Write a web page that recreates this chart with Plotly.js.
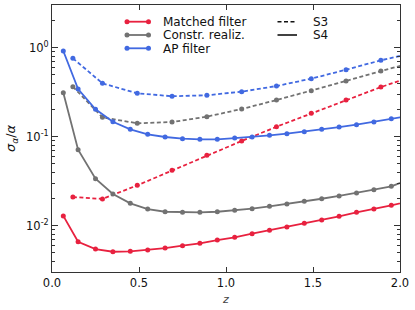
<!DOCTYPE html>
<html>
<head>
<meta charset="utf-8">
<script src="https://cdn.plot.ly/plotly-3.0.1.min.js"></script>
<style>html,body{margin:0;padding:0;background:#fff;}#chart{width:415px;height:310px;}</style>
</head>
<body>
<div id="chart"></div>
<script>
// x positions
const zS4 = [0.065, 0.15, 0.25, 0.35, 0.45, 0.55, 0.65, 0.75, 0.85, 0.95, 1.05, 1.15, 1.25, 1.35, 1.45, 1.55, 1.65, 1.75, 1.85, 1.95, 2.05];
const zS3 = [0.12, 0.29, 0.49, 0.69, 0.89, 1.09, 1.29, 1.49, 1.69, 1.89, 2.09];

// S4 (solid)
const matchedS4 = [0.0129, 0.0066, 0.00547, 0.0051, 0.00516, 0.00533, 0.00561, 0.00596, 0.00634, 0.0069, 0.0074, 0.00813, 0.00888, 0.00967, 0.01064, 0.01159, 0.01276, 0.01415, 0.01541, 0.01695, 0.0188];
const constrS4  = [0.312, 0.0714, 0.0338, 0.0227, 0.01786, 0.0154, 0.01436, 0.01415, 0.01415, 0.01436, 0.0149, 0.01552, 0.01652, 0.01753, 0.0188, 0.0201, 0.0216, 0.0233, 0.0254, 0.0277, 0.0329];
const apS4      = [0.918, 0.343, 0.203, 0.1475, 0.1211, 0.1064, 0.0993, 0.095, 0.0935, 0.0935, 0.0966, 0.0993, 0.1037, 0.1081, 0.1138, 0.1211, 0.1285, 0.1364, 0.1462, 0.1592, 0.1714];

// S3 (dashed)
const matchedS3 = [0.021, 0.020, 0.0284, 0.0419, 0.0618, 0.0895, 0.1294, 0.1832, 0.2585, 0.3615, 0.486];
const constrS3  = [0.365, 0.165, 0.1415, 0.1462, 0.168, 0.205, 0.258, 0.329, 0.423, 0.547, 0.692];
const apS3      = [0.760, 0.398, 0.307, 0.285, 0.292, 0.321, 0.371, 0.449, 0.566, 0.722, 0.885];

const methodNames = ['Matched filter', 'Constr. realiz.', 'AP filter'];
const sampleNames = ['S3', 'S4'];
const xTickVals = [0, 0.5, 1.0, 1.5, 2.0];
const xTickText = ['0.0', '0.5', '1.0', '1.5', '2.0'];
const yTickVals = [0.01, 0.1, 1];
const yTickText = ['10<sup>-2</sup>', '10<sup>-1</sup>', '10<sup>0</sup>'];

const colors = ['#e8213f', '#727272', '#4169e1'];
const FONT = 'DejaVu Sans, sans-serif';

function tr(x, y, color, dash, name) {
  return {
    x: x, y: y, type: 'scatter', mode: 'lines+markers', name: name,
    line: {color: color, width: 1.8, dash: dash},
    marker: {color: color, size: 5},
    showlegend: false, cliponaxis: true
  };
}

const data = [
  tr(zS3, constrS3, colors[1], '4px,2.5px', methodNames[1] + ' S3'),
  tr(zS3, apS3, colors[2], '4px,2.5px', methodNames[2] + ' S3'),
  tr(zS3, matchedS3, colors[0], '4px,2.5px', methodNames[0] + ' S3'),
  tr(zS4, constrS4, colors[1], 'solid', methodNames[1] + ' S4'),
  tr(zS4, apS4, colors[2], 'solid', methodNames[2] + ' S4'),
  tr(zS4, matchedS4, colors[0], 'solid', methodNames[0] + ' S4')
];

// plot area in pixels
const L = 52, R = 400, T = 5, B = 272;
const px2x = p => (p - L) / (R - L);
const py2y = p => (B - p) / (B - T);

const shapes = [];
const annotations = [];
const legY = [21.7, 35, 48.3];
methodNames.forEach((n, i) => {
  shapes.push({type: 'line', xref: 'paper', yref: 'paper', x0: px2x(127), x1: px2x(148.5), y0: py2y(legY[i]), y1: py2y(legY[i]), line: {color: colors[i], width: 1.8}});
  [127, 148.5].forEach(xp => {
    shapes.push({type: 'circle', xref: 'paper', yref: 'paper', xsizemode: 'pixel', ysizemode: 'pixel',
      xanchor: px2x(xp), yanchor: py2y(legY[i]), x0: -2.5, x1: 2.5, y0: -2.5, y1: 2.5,
      fillcolor: colors[i], line: {color: colors[i], width: 0}});
  });
  annotations.push({xref: 'paper', yref: 'paper', x: px2x(161), y: py2y(legY[i] + 0.5), text: n, showarrow: false,
    xanchor: 'left', yanchor: 'middle', font: {family: FONT, size: 12, color: '#111'}});
});
const dashes = ['4px,2.5px', 'solid'];
sampleNames.forEach((n, i) => {
  shapes.push({type: 'line', xref: 'paper', yref: 'paper', x0: px2x(277.5), x1: px2x(297), y0: py2y(legY[i]), y1: py2y(legY[i]), line: {color: '#111', width: 1.6, dash: dashes[i]}});
  annotations.push({xref: 'paper', yref: 'paper', x: px2x(311), y: py2y(legY[i] + 0.5), text: n, showarrow: false,
    xanchor: 'left', yanchor: 'middle', font: {family: FONT, size: 12, color: '#111'}});
});

const minorVals = [];
[0.001, 0.01, 0.1, 1].forEach(d => { for (let k = 2; k <= 9; k++) minorVals.push(+(k * d).toPrecision(3)); });

const layout = {
  width: 415, height: 310,
  margin: {l: L, r: 415 - R, t: T, b: 310 - B},
  paper_bgcolor: '#fff', plot_bgcolor: '#fff',
  font: {family: FONT, size: 12, color: '#111'},
  showlegend: false,
  xaxis: {
    range: [0, 2], tickmode: 'array', tickvals: xTickVals, ticktext: xTickText,
    ticks: 'inside', ticklen: 5, tickwidth: 1, tickcolor: '#333',
    showline: true, linecolor: '#333', linewidth: 1, mirror: 'ticks',
    showgrid: false, zeroline: false,
    tickfont: {family: FONT, size: 11.5, color: '#111'},
    title: {text: '<i>z</i>', font: {family: FONT, size: 11, color: '#444'}, standoff: 6}
  },
  yaxis: {
    type: 'log', range: [-2.52, 0.48], tickmode: 'array', tickvals: yTickVals, ticktext: yTickText,
    ticks: 'inside', ticklen: 6, tickwidth: 1, tickcolor: '#333',
    minor: {tickmode: 'array', tickvals: minorVals, ticks: 'inside', ticklen: 3, tickwidth: 1, tickcolor: '#333', showgrid: false},
    showline: true, linecolor: '#333', linewidth: 1, mirror: 'ticks',
    showgrid: false, zeroline: false,
    tickfont: {family: FONT, size: 11.5, color: '#111'},
    title: {text: '<i>σ<sub>α</sub></i>/<i>α</i>', font: {family: FONT, size: 13, color: '#111'}, standoff: 7}
  },
  shapes: shapes,
  annotations: annotations
};

Plotly.newPlot('chart', data, layout, {staticPlot: true, displayModeBar: false});
</script>
</body>
</html>
